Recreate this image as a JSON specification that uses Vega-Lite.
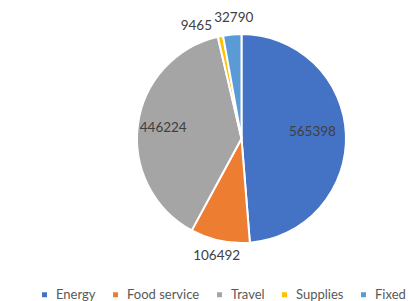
{
  "$schema": "https://vega.github.io/schema/vega-lite/v6.json",
  "autosize": "none",
  "width": 209,
  "height": 209,
  "padding": {"left": 137, "top": 34, "right": 62, "bottom": 58},
  "background": "white",
  "config": {"view": {"stroke": null}},
  "data": {"values": [
    {"category": "Energy", "value": 565398, "i": 1},
    {"category": "Food service", "value": 106492, "i": 2},
    {"category": "Travel", "value": 446224, "i": 3},
    {"category": "Supplies", "value": 9465, "i": 4},
    {"category": "Fixed", "value": 32790, "i": 5}
  ]},
  "encoding": {
    "theta": {"field": "value", "type": "quantitative", "stack": true},
    "order": {"field": "i", "type": "quantitative"}
  },
  "layer": [
    {
      "mark": {"type": "arc", "outerRadius": 104.5, "stroke": "white", "strokeWidth": 2},
      "encoding": {
        "color": {
          "field": "category", "type": "nominal",
          "scale": {"domain": ["Energy", "Food service", "Travel", "Supplies", "Fixed"],
                    "range": ["#4472C4", "#ED7D31", "#A5A5A5", "#FFC000", "#5B9BD5"]},
          "legend": {
            "title": null, "orient": "none", "direction": "horizontal", "columns": 5,
            "legendX": -99, "legendY": 254,
            "symbolType": "square", "symbolSize": 25, "symbolStrokeWidth": 0,
            "labelFont": "Lato", "labelFontSize": 13, "labelColor": "#595959",
            "labelOffset": 5, "columnPadding": 13
          }
        }
      }
    },
    {
      "mark": {"type": "text", "radius": 71, "dy": -4, "font": "Lato", "fontSize": 13.5, "fill": "#404040"},
      "encoding": {"text": {"condition": {"test": "datum.category == 'Energy'", "field": "value", "type": "nominal"}, "value": ""}}
    },
    {
      "mark": {"type": "text", "radius": 79, "font": "Lato", "fontSize": 13.5, "fill": "#404040"},
      "encoding": {"text": {"condition": {"test": "datum.category == 'Travel'", "field": "value", "type": "nominal"}, "value": ""}}
    },
    {
      "mark": {"type": "text", "radius": 120, "font": "Lato", "fontSize": 13.5, "fill": "#404040"},
      "encoding": {"text": {"condition": {"test": "datum.category == 'Food service'", "field": "value", "type": "nominal"}, "value": ""}}
    },
    {
      "mark": {"type": "text", "radius": 115, "dx": -22, "font": "Lato", "fontSize": 13.5, "fill": "#404040"},
      "encoding": {"text": {"condition": {"test": "datum.category == 'Supplies'", "field": "value", "type": "nominal"}, "value": ""}}
    },
    {
      "mark": {"type": "text", "radius": 121, "dx": 3, "font": "Lato", "fontSize": 13.5, "fill": "#404040"},
      "encoding": {"text": {"condition": {"test": "datum.category == 'Fixed'", "field": "value", "type": "nominal"}, "value": ""}}
    }
  ]
}
